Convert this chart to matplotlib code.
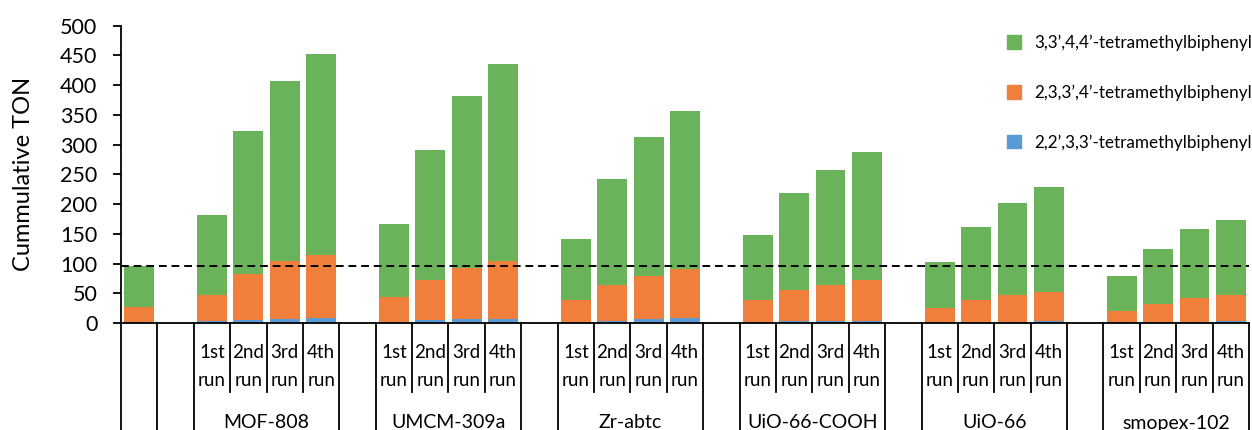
import matplotlib
matplotlib.use("Agg")
import matplotlib.pyplot as plt
import matplotlib.transforms as mtransforms
from matplotlib.patches import Patch

plt.rcParams['font.family'] = ['Lato', 'DejaVu Sans']

# data (segment heights, bottom to top: blue, orange, green)
groups = ['MOF-808', 'UMCM-309a', 'Zr-abtc', 'UiO-66-COOH', 'UiO-66', 'smopex-102']
runs = ['1st run', '2nd run', '3rd run', '4th run']
series_names = ['2,2\u2019,3,3\u2019-tetramethylbiphenyl',
                '2,3,3\u2019,4\u2019-tetramethylbiphenyl',
                '3,3\u2019,4,4\u2019-tetramethylbiphenyl']

# reference (unlabelled first bar)
ref_blue = 1.0
ref_orange_top = 27.0
ref_total = 96.5

# cumulative tops, one row per group, 4 runs each
blue_top = [[2.7, 5.5, 7.2, 8.4],
            [2.0, 5.0, 6.0, 7.0],
            [2.0, 4.0, 6.0, 8.0],
            [1.0, 3.0, 3.5, 4.0],
            [1.0, 1.5, 2.0, 3.0],
            [1.0, 1.5, 2.0, 3.0]]
orange_top = [[46.4, 81.7, 103.5, 115.2],
              [43.0, 72.2, 92.4, 103.5],
              [38.0, 63.2, 79.5, 90.7],
              [38.6, 54.8, 64.3, 72.2],
              [24.5, 38.0, 47.5, 53.0],
              [20.7, 32.4, 42.0, 47.0]]
total = [[182.5, 323.0, 406.5, 451.9],
         [166.8, 291.0, 381.8, 436.0],
         [140.5, 242.4, 313.5, 356.6],
         [147.8, 218.4, 257.0, 287.2],
         [102.5, 161.3, 202.0, 229.0],
         [78.3, 125.3, 157.3, 174.0]]

threshold = 96.0
colors = ['#5B9BD5', '#EF7F3A', '#6AB35A']

# slot layout: ref bar, empty slot, then 4 runs + empty slot per group
x_groups = []
s = 2
for g in groups:
    x_groups.append(list(range(s, s + 4)))
    s += 5
nslots = s - 1

xs = [0]
b = [ref_blue]
o = [ref_orange_top - ref_blue]
gr = [ref_total - ref_orange_top]
for gi in range(len(groups)):
    for ri in range(4):
        xs.append(x_groups[gi][ri])
        b.append(blue_top[gi][ri])
        o.append(orange_top[gi][ri] - blue_top[gi][ri])
        gr.append(total[gi][ri] - orange_top[gi][ri])

fig = plt.figure(figsize=(12.52, 4.30), dpi=100)
ax = fig.add_axes([121 / 1252, 0.2488, 1128 / 1252, 0.6914])

w = 0.82
ax.bar(xs, b, width=w, color=colors[0])
ax.bar(xs, o, width=w, bottom=b, color=colors[1])
ax.bar(xs, gr, width=w, bottom=[bi + oi for bi, oi in zip(b, o)], color=colors[2])

ax.axhline(threshold, color='black', ls=(0, (4, 2.5)), lw=1.4, zorder=5)

ax.set_xlim(-0.5, nslots - 0.5)
ax.set_ylim(0, 500)
ax.set_yticks(range(0, 501, 50))
ax.set_xticks([])
for sp in ['top', 'right']:
    ax.spines[sp].set_visible(False)
ax.spines['left'].set_linewidth(1.3)
ax.spines['bottom'].set_linewidth(1.3)
ax.tick_params(axis='y', direction='out', length=6, width=1.3, pad=11, labelsize=15.5)
ax.set_ylabel('Cummulative TON', fontsize=17)
ax.yaxis.set_label_coords(-0.077, 0.5)

# category axis (two levels) below the plot
trans = mtransforms.blended_transform_factory(ax.transData, ax.transAxes)
y_bottom = -0.2488 / 0.6914 - 0.01
y_inner = ((430 - 392) / 430 - 0.2488) / 0.6914
full_lines = [-0.5, 0.5, 1.5]
for xg in x_groups:
    full_lines += [xg[-1] + 0.5, xg[-1] + 1.5]
for xl in full_lines:
    if xl <= nslots - 0.5:
        ax.plot([xl, xl], [0, y_bottom], color='black', lw=1.3, transform=trans, clip_on=False)
y_r1 = ((430 - 353) / 430 - 0.2488) / 0.6914
y_r2 = ((430 - 381) / 430 - 0.2488) / 0.6914
y_g = ((430 - 423) / 430 - 0.2488) / 0.6914
for gi, xg in enumerate(x_groups):
    for xl in xg[:-1]:
        ax.plot([xl + 0.5, xl + 0.5], [0, y_inner], color='black', lw=1.3,
                transform=trans, clip_on=False)
    for ri, x in enumerate(xg):
        word1, word2 = runs[ri].split(' ')
        ax.text(x, y_r1, word1, transform=trans, ha='center', va='center', fontsize=13.5)
        ax.text(x, y_r2, word2, transform=trans, ha='center', va='center', fontsize=13.5)
    ax.text((xg[0] + xg[-1]) / 2, y_g, groups[gi], transform=trans, ha='center',
            va='center', fontsize=14)

handles = [Patch(color=colors[i], label=series_names[i]) for i in [2, 1, 0]]
fig.legend(handles=handles, loc='upper left', bbox_to_anchor=(1000 / 1252, 1 - 28 / 430),
           frameon=False, fontsize=12.3, handlelength=0.85, handleheight=0.85,
           handletextpad=0.75, labelspacing=1.95, borderaxespad=0)

fig.savefig('out.png', dpi=100)
